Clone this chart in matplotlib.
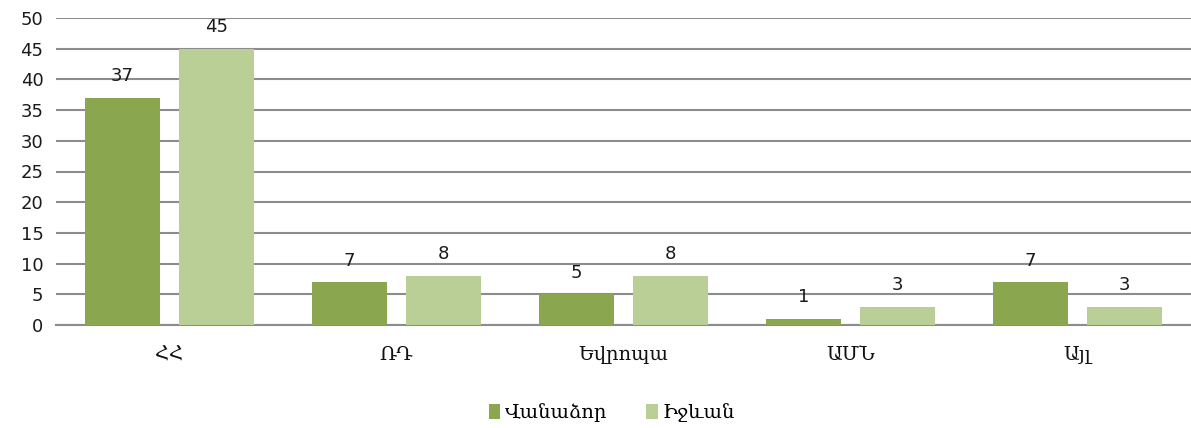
import matplotlib
matplotlib.use("Agg")
import matplotlib.pyplot as plt
import numpy as np

categories = ["ՀՀ", "ՌԴ", "Եվրոպա", "ԱՄՆ", "Այլ"]
series_names = ["Վանաձոր", "Իջևան"]
vanadzor = [37, 7, 5, 1, 7]
ijevan = [45, 8, 8, 3, 3]
yticks = [0, 5, 10, 15, 20, 25, 30, 35, 40, 45, 50]

colors = ["#8AA64E", "#B9CF96"]
arm_font = ["DejaVu Serif", "DejaVu Sans"]

fig = plt.figure(figsize=(11.91, 4.28), dpi=100)
ax = fig.add_axes([56/1191, 1-325/428, 1-56/1191, (325-18)/428])

x = np.arange(len(categories))
w = 0.33
off = 0.207
b1 = ax.bar(x - off, vanadzor, w, color=colors[0], label=series_names[0], zorder=3)
b2 = ax.bar(x + off, ijevan, w, color=colors[1], label=series_names[1], zorder=3)

for bars, vals in ((b1, vanadzor), (b2, ijevan)):
    for r, v in zip(bars, vals):
        ax.annotate(str(v), (r.get_x() + r.get_width()/2, v), xytext=(0, 9),
                    textcoords="offset points", ha="center", va="bottom",
                    fontsize=13, color="#1a1a1a", zorder=4)

ax.set_xlim(-0.5, len(categories) - 0.5)
ax.set_ylim(0, 50)
ax.set_yticks(yticks)
ax.set_yticklabels([str(t) for t in yticks], fontsize=13, color="#1a1a1a")
ax.set_xticks(x)
ax.set_xticklabels(categories, fontsize=14, family=arm_font, color="#111111")
ax.tick_params(axis="both", length=0)
ax.tick_params(axis="x", pad=15)
ax.tick_params(axis="y", pad=9)
ax.yaxis.grid(True, color="#8C8C8C", linewidth=1.5, zorder=0)
ax.set_axisbelow(True)
for s in ("top", "right", "left"):
    ax.spines[s].set_visible(False)
ax.spines["bottom"].set_color("#8C8C8C")
ax.spines["bottom"].set_linewidth(1.5)

leg = fig.legend(loc="center", bbox_to_anchor=(612/1191, 1-413/428), ncol=2,
                 frameon=False, prop={"family": arm_font, "size": 14},
                 handlelength=0.6, handleheight=0.8, handletextpad=0.25,
                 columnspacing=2.0)

fig.savefig("out.png", dpi=100)
